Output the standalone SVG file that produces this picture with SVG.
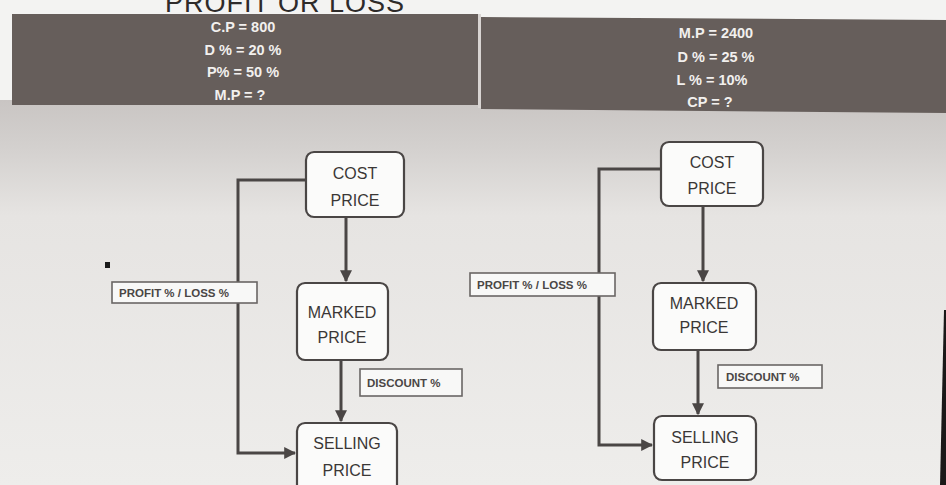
<svg xmlns="http://www.w3.org/2000/svg" width="946" height="485" viewBox="0 0 946 485">
<defs>
<linearGradient id="bg" x1="0" y1="0" x2="0" y2="1">
<stop offset="0" stop-color="#c9c5c3"/>
<stop offset="0.12" stop-color="#d3d0ce"/>
<stop offset="0.3" stop-color="#e6e4e2"/>
<stop offset="1" stop-color="#eeedeb"/>
</linearGradient>
<marker id="arr" viewBox="0 0 10 10" refX="9" refY="5" markerWidth="4" markerHeight="4" orient="auto">
<path d="M0,0 L10,5 L0,10 z" fill="#4a4645"/>
</marker>
<style>
.panel{fill:#665e5b;}
.ptxt{font-family:"Liberation Sans",Arial,sans-serif;font-weight:bold;font-size:14.5px;fill:#f2f0ee;text-anchor:middle;}
.node rect{fill:#fbfbfa;stroke:#4a4645;stroke-width:2.2;}
.ntxt{font-family:"Liberation Sans",Arial,sans-serif;font-size:16px;fill:#3a3736;text-anchor:middle;}
.lbl rect{fill:#f8f8f7;stroke:#6a6664;stroke-width:1.6;}
.ltxt{font-family:"Liberation Sans",Arial,sans-serif;font-weight:bold;font-size:11.5px;fill:#4a4645;}
.conn{fill:none;stroke:#4a4645;stroke-width:3;}
</style>
</defs>
<rect x="0" y="0" width="946" height="485" fill="#f3f3f2"/>
<rect x="0" y="100" width="946" height="385" fill="url(#bg)"/>
<text x="285" y="12" font-family="Liberation Sans,Arial,sans-serif" font-size="27" fill="#2e2b2a" text-anchor="middle" letter-spacing="1">PROFIT OR LOSS</text>
<g id="panel-left">
<rect class="panel" x="12" y="14" width="466" height="91"/>
<text class="ptxt" x="243" y="32">C.P = 800</text>
<text class="ptxt" x="243" y="55">D % = 20 %</text>
<text class="ptxt" x="243" y="77">P% = 50 %</text>
<text class="ptxt" x="240" y="100">M.P = ?</text>
</g>
<rect x="478" y="14" width="3" height="94" fill="#d8d4d2"/>
<g id="panel-right">
<polygon class="panel" points="481,17 946,20 946,113 481,109"/>
<text class="ptxt" x="716" y="38">M.P = 2400</text>
<text class="ptxt" x="716" y="62">D % = 25 %</text>
<text class="ptxt" x="712" y="85">L % = 10%</text>
<text class="ptxt" x="710" y="107">CP = ?</text>
</g>
<rect x="105" y="262" width="5" height="6" fill="#1a1a1a"/>
<polygon points="944,310 946,310 946,485 940,485" fill="#1a1818"/>
<g id="connectors">
<path class="conn" d="M346,217 V281" marker-end="url(#arr)"/>
<path class="conn" d="M341,360 V421" marker-end="url(#arr)"/>
<path class="conn" d="M306,180 H238 V453 H295" marker-end="url(#arr)"/>
<path class="conn" d="M703,206 V281" marker-end="url(#arr)"/>
<path class="conn" d="M698,350 V414" marker-end="url(#arr)"/>
<path class="conn" d="M661,169 H599 V445 H652" marker-end="url(#arr)"/>
</g>
<g id="cost-left" class="node">
<rect x="306" y="152" width="98" height="65" rx="8"/>
<text class="ntxt" x="355" y="179">COST</text>
<text class="ntxt" x="355" y="206">PRICE</text>
</g>
<g id="marked-left" class="node">
<rect x="297" y="283" width="91" height="77" rx="8"/>
<text class="ntxt" x="342" y="318">MARKED</text>
<text class="ntxt" x="342" y="343">PRICE</text>
</g>
<g id="selling-left" class="node">
<rect x="297" y="423" width="100" height="72" rx="8"/>
<text class="ntxt" x="347" y="449">SELLING</text>
<text class="ntxt" x="347" y="476">PRICE</text>
</g>
<g id="cost-right" class="node">
<rect x="661" y="142" width="102" height="64" rx="8"/>
<text class="ntxt" x="712" y="168">COST</text>
<text class="ntxt" x="712" y="194">PRICE</text>
</g>
<g id="marked-right" class="node">
<rect x="653" y="283" width="103" height="67" rx="8"/>
<text class="ntxt" x="704" y="309">MARKED</text>
<text class="ntxt" x="704" y="333">PRICE</text>
</g>
<g id="selling-right" class="node">
<rect x="654" y="416" width="102" height="64" rx="8"/>
<text class="ntxt" x="705" y="443">SELLING</text>
<text class="ntxt" x="705" y="468">PRICE</text>
</g>
<g id="label-profit-left" class="lbl">
<rect x="112" y="282" width="145" height="21"/>
<text class="ltxt" x="119" y="297">PROFIT % / LOSS %</text>
</g>
<g id="label-discount-left" class="lbl">
<rect x="360" y="369" width="102" height="27"/>
<text class="ltxt" x="367" y="387">DISCOUNT %</text>
</g>
<g id="label-profit-right" class="lbl">
<rect x="470" y="273" width="145" height="23"/>
<text class="ltxt" x="477" y="289">PROFIT % / LOSS %</text>
</g>
<g id="label-discount-right" class="lbl">
<rect x="718" y="365" width="104" height="23"/>
<text class="ltxt" x="726" y="381">DISCOUNT %</text>
</g>
</svg>
